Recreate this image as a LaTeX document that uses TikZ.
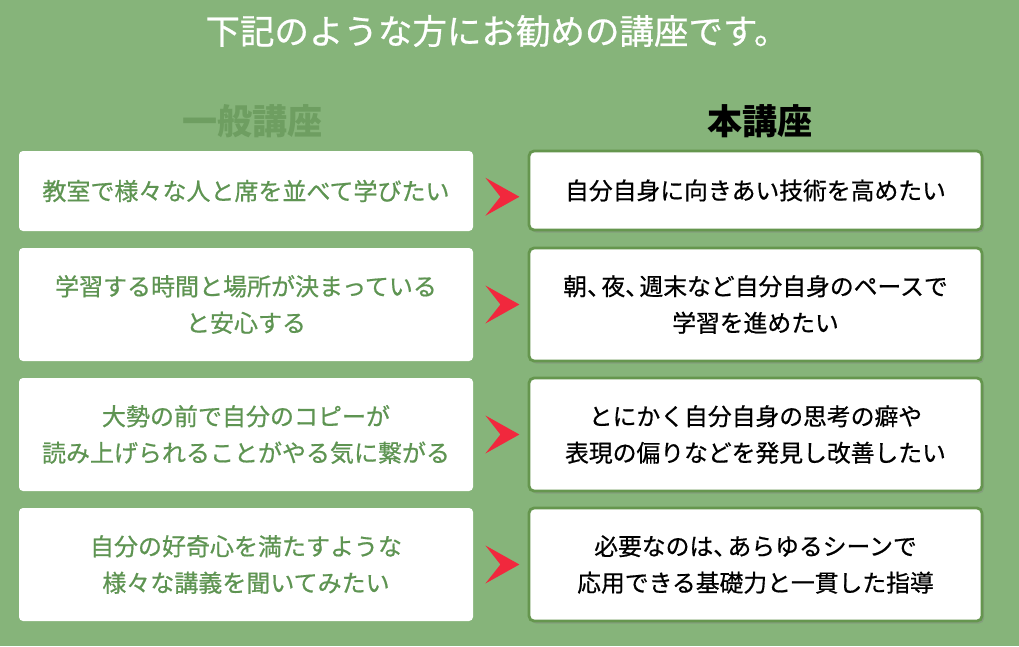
\documentclass[tikz,border=0pt]{standalone}
\usepackage{fontspec}
\usepackage{tikz}
\usetikzlibrary{
  calc,
  positioning,
  shadows
}
\newfontfamily\jpfont{Noto Sans CJK JP}
\newfontfamily\jpmed{Noto Sans CJK JP}[FakeBold=0.6]
\newcommand{\tc}{、\kern-0.4em}
\definecolor{bggreen}{HTML}{86B47A}
\definecolor{headgreen}{HTML}{6E9E61}
\definecolor{textgreen}{HTML}{5E9452}
\definecolor{edgegreen}{HTML}{65964E}
\definecolor{chevred}{HTML}{F1283D}
\tikzset{
  leftbox/.style={fill=white, rounded corners=4pt, minimum width=454pt,
    align=center, text=textgreen, inner sep=0pt,
    font=\jpmed\fontsize{24}{36.5}\selectfont},
  rightbox/.style={fill=white, draw=edgegreen, line width=2.8pt,
    rounded corners=5pt, minimum width=453pt, align=center, text=black,
    inner sep=0pt, font=\jpmed\fontsize{23.8}{36.5}\selectfont,
    drop shadow={shadow xshift=2pt, shadow yshift=-2.5pt, opacity=0.4}},
  heading/.style={font=\jpfont\bfseries\fontsize{35}{40}\selectfont}
}
\begin{document}
\begin{tikzpicture}[x=1pt,y=-1pt]
  \fill[bggreen] (0,0) rectangle (1019,646);
  \useasboundingbox (0,0) rectangle (1019,646);

  \node[text=white, font=\jpmed\fontsize{34.5}{40}\selectfont] (title) at (497,31)
    {下記のような方にお勧めの講座です。};
  \node[heading, text=headgreen] (hleft) at (252,121) {一般講座};
  \node[heading, text=black] (hright) at (760,121) {本講座};

  % general course
  \node[leftbox, minimum height=80pt] (l1) at (246,191)
    {教室で様々な人と席を並べて学びたい};
  \node[leftbox, minimum height=113pt] (l2) at (246,304.5)
    {学習する時間と場所が決まっている\\と安心する};
  \node[leftbox, minimum height=113pt] (l3) at (246,434.5)
    {大勢の前で自分のコピーが\\読み上げられることがやる気に繋がる};
  \node[leftbox, minimum height=113pt] (l4) at (246,564.5)
    {自分の好奇心を満たすような\\様々な講義を聞いてみたい};

  % this course
  \node[rightbox, minimum height=79pt] (r1) at (755.5,190.5)
    {自分自身に向きあい技術を高めたい};
  \node[rightbox, minimum height=113pt] (r2) at (755.5,304.5)
    {朝\tc 夜\tc 週末など自分自身のペースで\\学習を進めたい};
  \node[rightbox, minimum height=113pt] (r3) at (755.5,434.5)
    {とにかく自分自身の思考の癖や\\表現の偏りなどを発見し改善したい};
  \node[rightbox, minimum height=113pt] (r4) at (755.5,564.5)
    {必要なのは\tc あらゆるシーンで\\応用できる基礎力と一貫した指導};

  \foreach \i/\dy in {1/6,2/0,3/0,4/0} {
    \coordinate (m\i) at ($(l\i.east)!0.5!(r\i.west)+(0,\dy)$);
    \fill[chevred] ($(m\i)+(19,0)$) -- ($(m\i)+(-15,-19)$)
      -- (m\i) -- ($(m\i)+(-15,19)$) -- cycle;
  }
\end{tikzpicture}
\end{document}
